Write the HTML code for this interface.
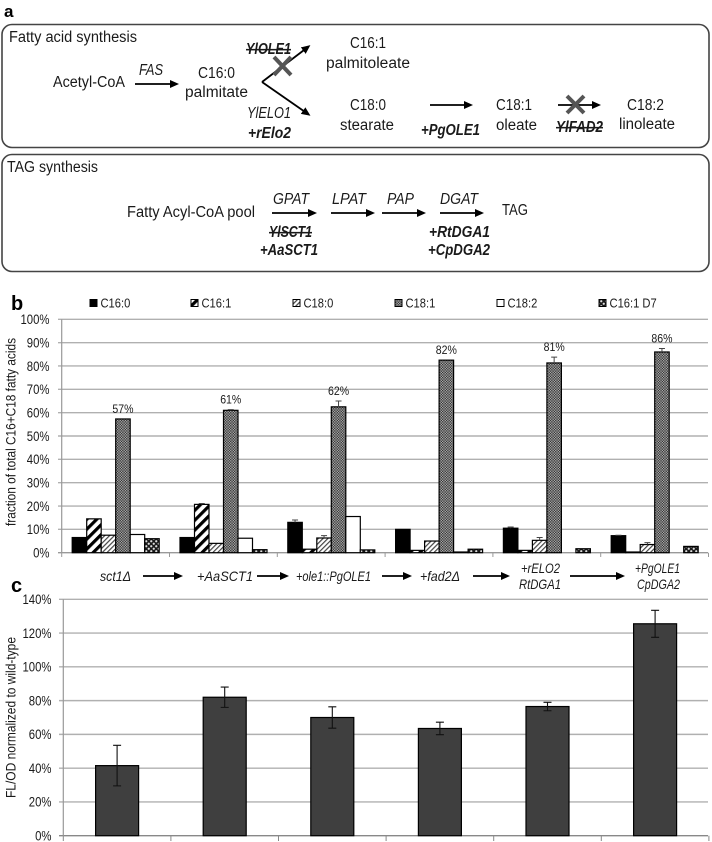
<!DOCTYPE html>
<html>
<head>
<meta charset="utf-8">
<title>Fatty acid and TAG synthesis chart</title>
<style>
html,body{margin:0;padding:0;background:#fff;width:712px;height:842px;overflow:hidden}
svg{display:block;font-family:"Liberation Sans",sans-serif;fill:#1a1a1a;filter:blur(0.35px)}
.i{font-style:italic}
.b{font-weight:bold}
.p{font-weight:bold;font-family:"Liberation Sans",sans-serif;fill:#000}
</style>
</head>
<body>
<svg id="fig" width="712" height="842" viewBox="0 0 712 842" xmlns="http://www.w3.org/2000/svg">
<defs>
<marker id="ah" markerWidth="9" markerHeight="9" refX="6" refY="4" orient="auto" markerUnits="userSpaceOnUse"><path d="M0,0L9,4L0,8z" fill="#000"/></marker>
<pattern id="p161" patternUnits="userSpaceOnUse" width="7" height="7" patternTransform="rotate(45)"><rect width="7" height="7" fill="#fff"/><rect width="3.2" height="7" fill="#000"/></pattern>
<pattern id="p180" patternUnits="userSpaceOnUse" width="3.4" height="3.4" patternTransform="rotate(45)"><rect width="3.4" height="3.4" fill="#fff"/><rect width="1.2" height="3.4" fill="#444"/></pattern>
<pattern id="p181" patternUnits="userSpaceOnUse" width="2.6" height="2.6"><rect width="2.6" height="2.6" fill="#aaa"/><rect width="1.3" height="1.3" fill="#333"/><rect x="1.3" y="1.3" width="1.3" height="1.3" fill="#333"/></pattern>
<pattern id="pd7" patternUnits="userSpaceOnUse" width="5" height="5"><rect width="5" height="5" fill="#1a1a1a"/><circle cx="1.25" cy="1.25" r="1.1" fill="#ddd"/><circle cx="3.75" cy="3.75" r="1.1" fill="#ddd"/></pattern>
</defs>

<text class="p" x="4" y="17" font-size="17">a</text>
<rect x="2" y="24.5" width="707" height="123" rx="10" fill="none" stroke="#444" stroke-width="1.6"/>
<rect x="2" y="154.5" width="707" height="117" rx="10" fill="none" stroke="#444" stroke-width="1.6"/>

<g font-size="15.5">
<text x="9" y="42" textLength="128" lengthAdjust="spacingAndGlyphs">Fatty acid synthesis</text>
<text x="53" y="87" textLength="72" lengthAdjust="spacingAndGlyphs">Acetyl-CoA</text>
<text class="i" x="139" y="75" textLength="24" lengthAdjust="spacingAndGlyphs">FAS</text>
<text x="198" y="78" textLength="37" lengthAdjust="spacingAndGlyphs">C16:0</text>
<text x="185" y="97" textLength="63" lengthAdjust="spacingAndGlyphs">palmitate</text>
<text class="i b" x="246" y="54" textLength="45" lengthAdjust="spacingAndGlyphs" text-decoration="line-through">YlOLE1</text>
<text x="350" y="48" textLength="36" lengthAdjust="spacingAndGlyphs">C16:1</text>
<text x="326" y="68" textLength="84" lengthAdjust="spacingAndGlyphs">palmitoleate</text>
<text class="i" x="247" y="118" textLength="44" lengthAdjust="spacingAndGlyphs">YlELO1</text>
<text class="i b" x="248" y="138" textLength="43" lengthAdjust="spacingAndGlyphs">+rElo2</text>
<text x="350" y="110" textLength="36" lengthAdjust="spacingAndGlyphs">C18:0</text>
<text x="340" y="130" textLength="54" lengthAdjust="spacingAndGlyphs">stearate</text>
<text class="i b" x="421" y="135" textLength="59" lengthAdjust="spacingAndGlyphs">+PgOLE1</text>
<text x="496" y="110" textLength="36" lengthAdjust="spacingAndGlyphs">C18:1</text>
<text x="496" y="130" textLength="41" lengthAdjust="spacingAndGlyphs">oleate</text>
<text class="i b" x="556" y="132" textLength="47" lengthAdjust="spacingAndGlyphs" text-decoration="line-through">YlFAD2</text>
<text x="627" y="110" textLength="37" lengthAdjust="spacingAndGlyphs">C18:2</text>
<text x="619" y="129" textLength="56" lengthAdjust="spacingAndGlyphs">linoleate</text>
<g stroke="#000" stroke-width="1.8" fill="none">
<line x1="135" y1="84" x2="176" y2="84" marker-end="url(#ah)"/>
<line x1="262" y1="82" x2="308" y2="47" marker-end="url(#ah)"/>
<line x1="262" y1="82" x2="308" y2="114" marker-end="url(#ah)"/>
<line x1="430" y1="105" x2="470" y2="105" marker-end="url(#ah)"/>
<line x1="558" y1="105" x2="598" y2="105" marker-end="url(#ah)"/>
</g>
<g stroke="#555" stroke-width="4" fill="none">
<path d="M274,57L291,75M291,57L274,75"/>
<path d="M567,96L584,113M584,96L567,113"/>
</g>
</g>

<g font-size="15.5">
<text x="7" y="172" textLength="91" lengthAdjust="spacingAndGlyphs">TAG synthesis</text>
<text x="127" y="217" textLength="128" lengthAdjust="spacingAndGlyphs">Fatty Acyl-CoA pool</text>
<text class="i" x="273" y="204" textLength="36" lengthAdjust="spacingAndGlyphs">GPAT</text>
<text class="i" x="332" y="204" textLength="34" lengthAdjust="spacingAndGlyphs">LPAT</text>
<text class="i" x="387" y="204" textLength="27" lengthAdjust="spacingAndGlyphs">PAP</text>
<text class="i" x="440" y="204" textLength="38" lengthAdjust="spacingAndGlyphs">DGAT</text>
<text x="502" y="215" textLength="26" lengthAdjust="spacingAndGlyphs">TAG</text>
<text class="i b" x="269" y="237" textLength="43" lengthAdjust="spacingAndGlyphs" text-decoration="line-through">YlSCT1</text>
<text class="i b" x="260" y="255" textLength="58" lengthAdjust="spacingAndGlyphs">+AaSCT1</text>
<text class="i b" x="429" y="237" textLength="61" lengthAdjust="spacingAndGlyphs">+RtDGA1</text>
<text class="i b" x="428" y="255" textLength="62" lengthAdjust="spacingAndGlyphs">+CpDGA2</text>
<g stroke="#000" stroke-width="1.8" fill="none">
<line x1="272" y1="213" x2="314" y2="213" marker-end="url(#ah)"/>
<line x1="331" y1="213" x2="372" y2="213" marker-end="url(#ah)"/>
<line x1="382" y1="213" x2="423" y2="213" marker-end="url(#ah)"/>
<line x1="440" y1="213" x2="481" y2="213" marker-end="url(#ah)"/>
</g>
</g>

<text class="p" x="11" y="310" font-size="20">b</text>
<g font-size="14" class="i">
<text x="100" y="581" textLength="31" lengthAdjust="spacingAndGlyphs">sct1Δ</text>
<text x="197" y="581" textLength="56" lengthAdjust="spacingAndGlyphs">+AaSCT1</text>
<text x="296" y="581" textLength="75" lengthAdjust="spacingAndGlyphs">+ole1::PgOLE1</text>
<text x="420" y="581" textLength="40" lengthAdjust="spacingAndGlyphs">+fad2Δ</text>
<text x="521" y="573" textLength="39" lengthAdjust="spacingAndGlyphs">+rELO2</text>
<text x="519" y="589" textLength="42" lengthAdjust="spacingAndGlyphs">RtDGA1</text>
<text x="635" y="573" textLength="45" lengthAdjust="spacingAndGlyphs">+PgOLE1</text>
<text x="637" y="589" textLength="43" lengthAdjust="spacingAndGlyphs">CpDGA2</text>
</g>
<g stroke="#000" stroke-width="1.8" fill="none">
<line x1="143" y1="576" x2="180" y2="576" marker-end="url(#ah)"/>
<line x1="257" y1="576" x2="286" y2="576" marker-end="url(#ah)"/>
<line x1="382" y1="576" x2="409" y2="576" marker-end="url(#ah)"/>
<line x1="473" y1="576" x2="507" y2="576" marker-end="url(#ah)"/>
<line x1="570" y1="576" x2="622" y2="576" marker-end="url(#ah)"/>
</g>
<text class="p" x="11" y="592" font-size="20">c</text>
<g id="chartB"></g>
<g id="chartC"></g>
</svg>
<script>
var seriesNames = ['C16:0','C16:1','C18:0','C18:1','C18:2','C16:1 D7'];
var c160 = [6.5,6.5,13,10,10.5,7.3];
var c161 = [14.5,20.7,1.5,1,1,0.3];
var c180 = [7.5,4,6.3,5,5.3,3.5];
var c181 = [57.3,61,62.5,82.5,81.3,86];
var c182 = [7.8,6.2,15.5,0.3,0,0];
var c161d7 = [6,1.3,1.2,1.5,1.7,2.7];
var c160Err = [0,0,1,0,0.5,0.2];
var c161Err = [0,0.4,0,0,0,0];
var c180Err = [0,0,1,0,1.2,0.8];
var c181Err = [0,0.3,2.5,0,2.5,1.5];
var c182Err = [0,0,0,0,0,0];
var c161d7Err = [0,0,0,0,0,0];
var oleicLabels = ['57%','61%','62%','82%','81%','86%'];
var bTicks = [0,10,20,30,40,50,60,70,80,90,100];
var cTicks = [0,20,40,60,80,100,120,140];
var flValues = [41.5,82,70,63.5,76.5,125.5];
var flErrors = [12,6,6.3,3.7,2.5,8];

var NS = 'http://www.w3.org/2000/svg';
function mk(tag, parent, attrs, txt) {
  var e = document.createElementNS(NS, tag);
  for (var k in attrs) e.setAttribute(k, attrs[k]);
  if (txt !== undefined) e.textContent = txt;
  parent.appendChild(e);
  return e;
}
function narrow(el, ratio) {
  el.setAttribute('textLength', (el.getComputedTextLength() * ratio).toFixed(1));
  el.setAttribute('lengthAdjust', 'spacingAndGlyphs');
}
var seriesVals = [c160,c161,c180,c181,c182,c161d7];
var seriesErrs = [c160Err,c161Err,c180Err,c181Err,c182Err,c161d7Err];
var fills = ['#000','url(#p161)','url(#p180)','url(#p181)','#fff','url(#pd7)'];
var legendX = [90,191,293,395,497,599];

/* chart b */
var gB = document.getElementById('chartB');
function yB(v){ return 552.7 - v * (552.7 - 319.3) / 100; }
function xB(group, s){ return 61.7 + group * 107.8 + 10.5 + s * 14.5; }
bTicks.forEach(function (t) {
  var ln = mk('line', gB, {x1:58, x2:708, y1:yB(t), y2:yB(t), stroke: t === 0 ? '#999' : '#b0b0b0', 'stroke-width':1.4});
  
  
  var lb = mk('text', gB, {x:49.5, y:yB(t)+4.8, 'text-anchor':'end', 'font-size':13.5}, t + '%');
  
  
  narrow(lb, 0.84);
});
var axB = mk('line', gB, {x1:61.7, x2:61.7, y1:319.3, y2:552.7, stroke:'#999', 'stroke-width':1.2});


for (var i = 0; i <= c160.length; i++) {
  var tk = mk('line', gB, {x1:61.7+i*107.8, x2:61.7+i*107.8, y1:552.7, y2:557, stroke:'#999', 'stroke-width':1});
  
  
}
seriesVals.forEach(function (vals, s) {
  vals.forEach(function (v, g) {
    var bar = mk('rect', gB, {x:xB(g,s), y:yB(v), width:14.5, height:yB(0)-yB(v), fill:fills[s], stroke: v > 0 ? '#000' : 'none', 'stroke-width':1.2});
    
    
    var err = seriesErrs[s][g];
    if (err > 0) {
      var cx = xB(g,s) + 7.25;
      var eb = mk('path', gB, {d:'M'+cx+','+yB(v+err)+'L'+cx+','+yB(v)+'M'+(cx-3)+','+yB(v+err)+'L'+(cx+3)+','+yB(v+err), stroke:'#444', 'stroke-width':1, fill:'none'});
      
      
    }
  });
  var sw = mk('rect', gB, {x:legendX[s], y:299.5, width:7, height:7, fill:fills[s], stroke:'#000', 'stroke-width':1});
  
  
  var lt = mk('text', gB, {x:legendX[s]+10.5, y:307.5, 'font-size':13}, seriesNames[s]);
  
  
  narrow(lt, 0.86);
});
oleicLabels.forEach(function (txt, g) {
  var dl = mk('text', gB, {x:xB(g,3)+7.25, y:yB(c181[g]+c181Err[g])-6, 'text-anchor':'middle', 'font-size':12}, txt);
  
  
  narrow(dl, 0.88);
});
var tb = mk('text', gB, {transform:'translate(15.5,432) rotate(-90)', 'text-anchor':'middle', 'font-size':13.5, textLength:188, lengthAdjust:'spacingAndGlyphs'}, 'fraction of total C16+C18 fatty acids');



/* chart c */
var gC = document.getElementById('chartC');
function yC(v){ return 835.7 - v * (835.7 - 599.3) / 140; }
function xC(g){ return 63.3 + g * 107.6 + 53.8; }
cTicks.forEach(function (t) {
  var ln = mk('line', gC, {x1:59, x2:708, y1:yC(t), y2:yC(t), stroke: t === 0 ? '#888' : '#b0b0b0', 'stroke-width':1.4});
  
  
  var lb = mk('text', gC, {x:51.5, y:yC(t)+4.8, 'text-anchor':'end', 'font-size':13.5}, t + '%');
  
  
  narrow(lb, 0.84);
});
var axC = mk('line', gC, {x1:63.3, x2:63.3, y1:599.3, y2:835.7, stroke:'#999', 'stroke-width':1.2});


for (var j = 0; j <= flValues.length; j++) {
  var tc = mk('line', gC, {x1:63.3+j*107.6, x2:63.3+j*107.6, y1:835.7, y2:841, stroke:'#888', 'stroke-width':1});
  
  
}
flValues.forEach(function (v, g) {
  var bar = mk('rect', gC, {x:xC(g)-21.5, y:yC(v), width:43, height:yC(0)-yC(v), fill:'#3f3f3f', stroke:'#000', 'stroke-width':1.2});
  
  
  var e = flErrors[g], cx = xC(g);
  var eb = mk('path', gC, {d:'M'+cx+','+yC(v+e)+'L'+cx+','+yC(v-e)+'M'+(cx-4)+','+yC(v+e)+'L'+(cx+4)+','+yC(v+e)+'M'+(cx-4)+','+yC(v-e)+'L'+(cx+4)+','+yC(v-e), stroke:'#111', 'stroke-width':1.1, fill:'none'});
  
  
});
var tcx = mk('text', gC, {transform:'translate(15.5,717.5) rotate(-90)', 'text-anchor':'middle', 'font-size':13.5, textLength:161, lengthAdjust:'spacingAndGlyphs'}, 'FL/OD normalized to wild-type');


</script>
</body>
</html>
